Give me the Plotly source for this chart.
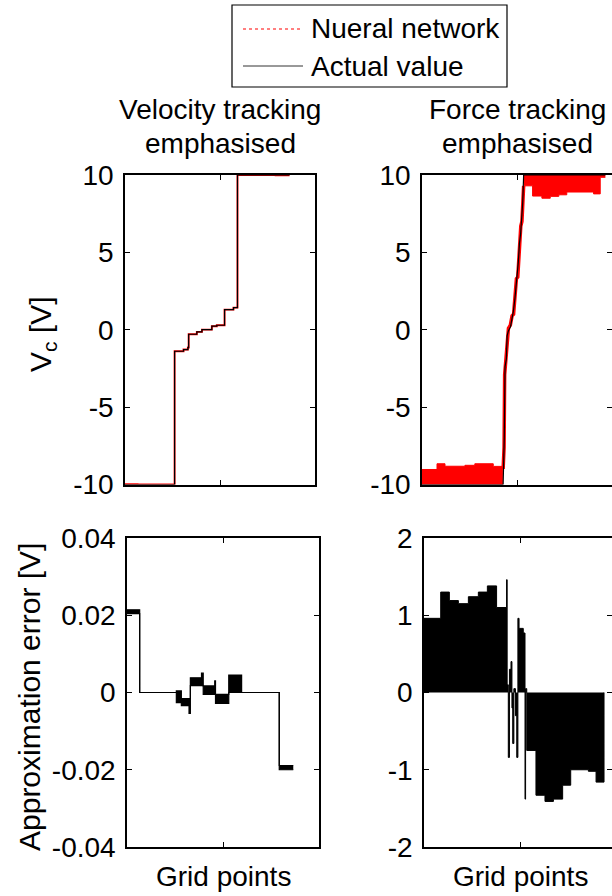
import plotly.graph_objects as go

# ---------------- data ----------------
# Top-left: velocity tracking emphasised (control voltage)
tl_act_x = [0, 26.1, 30.8, 33.1, 33.5, 37.8, 40.5, 45.7, 48.3, 52.4, 57.1, 59.2, 86.6]
tl_act_y = [-10, -1.39, -1.28, -1.15, -0.29, -0.14, 0.01, 0.23, 0.29, 1.30, 1.43, 10, 10]
tl_nn_x = [0, 6.6, 26.1, 30.8, 33.1, 33.5, 37.8, 40.5, 45.7, 48.3, 52.4, 57.1, 59.2, 79.3, 86.6]
tl_nn_y = [-9.979, -10, -1.39, -1.28, -1.15, -0.29, -0.14, 0.01, 0.23, 0.29, 1.30, 1.43, 10, 9.98, 9.98]

# Top-right: force tracking emphasised
tr_act_x = [0, 42.7, 43.0, 43.3, 43.7, 44.4, 44.8, 45.4, 46.6, 47.3, 48.1, 48.9, 49.8,
            50.3, 50.7, 51.3, 51.9, 52.5, 53.0, 53.5, 96.5]
tr_act_y = [-10, -10, -8.5, -7.0, -2.4, -1.9, -0.4, -0.1, 0.2, 0.6, 1.2, 2.0, 3.0,
            3.6, 4.4, 5.6, 6.2, 7.3, 8.2, 10, 10]
tr_nn_rise_x = [42.7, 42.9, 43.2, 43.5, 43.9, 44.5, 45.0, 45.5, 46.5, 47.4, 48.2, 49.0,
                49.7, 50.4, 50.9, 51.4, 52.0, 52.6, 53.1, 53.5]
tr_nn_rise_y = [-9.0, -8.2, -7.6, -2.9, -2.2, -1.6, -0.5, 0.1, 0.3, 0.9, 1.0, 2.3,
                3.3, 3.4, 4.8, 5.4, 6.7, 7.0, 8.6, 9.3]
tr_nn_lo_x = [0, 7.9, 12.1, 22.6, 27.8, 37.5, 42.6]
tr_nn_lo_env = [-9.03, -8.66, -8.82, -8.76, -8.66, -8.83, -8.83]
tr_nn_hi_x = [53.5, 58.2, 63.1, 67.5, 72.0, 76.2, 90.3, 93.8, 96.5]
tr_nn_hi_env = [9.30, 8.64, 8.50, 8.62, 8.72, 8.90, 8.78, 9.85, 9.85]

# Bottom-left: approximation error (band between hi and lo)
bl_x = [0, 6.6, 25.7, 28.3, 32.3, 33.0, 38.8, 39.7, 45.7, 46.1, 52.7, 53.0, 59.7, 79.3, 86.6]
bl_hi = [0.0214, 0, 0.0004, -0.0016, -0.0016, 0.0038, 0.0050, 0.0017, 0.0030, -0.0005,
         -0.0005, 0.0045, 0, -0.0189, -0.0189]
bl_lo = [0.0204, 0, -0.0026, -0.0034, -0.0054, 0.0018, 0.0018, -0.0005, -0.0005, -0.0028,
         -0.0028, 0.0000, 0, -0.0200, -0.0200]

# Bottom-right: approximation error envelope
br_x = [0, 8.7, 13.2, 17.9, 23.1, 28.3, 33.0, 37.8, 43.0, 43.3, 43.9, 44.5, 45.3, 45.8,
        46.2, 46.8, 47.6, 48.3, 48.9, 49.5, 51.7, 52.6, 52.9, 53.5, 58.3, 63.0, 67.4,
        72.2, 76.4, 85.6, 89.6, 93.75]
br_err = [0.96, 1.30, 1.19, 1.15, 1.24, 1.30, 1.38, 1.10, 1.46, 0.10, -0.84, 0.30, 0.40,
          -0.20, -0.66, 0.05, -0.30, -0.84, 0.96, 0.83, 0.77, -1.38, 0.05, -0.75, -1.33,
          -1.41, -1.38, -1.20, -1.00, -1.02, -1.16, 0]

top_ticks = [-10, -5, 0, 5, 10]
top_labels = ["-10", "-5", "0", "5", "10"]
bl_ticks = [-0.04, -0.02, 0, 0.02, 0.04]
bl_labels = ["-0.04", "-0.02", "0", "0.02", "0.04"]
br_ticks = [-2, -1, 0, 1, 2]
br_labels = ["-2", "-1", "0", "1", "2"]

titles = [["Velocity tracking", "emphasised"], ["Force tracking", "emphasised"]]

W, H = 612, 896
FONT = "Liberation Sans, Arial, sans-serif"
RED = "#ff0000"

fig = go.Figure()

def px_x(p):
    return p / W

def px_y(p):
    return 1 - p / H

# ---- top-left ----
fig.add_trace(go.Scatter(x=tl_nn_x, y=tl_nn_y, mode="lines", line=dict(color=RED, width=1.9, shape="hv"),
                         xaxis="x", yaxis="y", name="Nueral network", showlegend=False))
fig.add_trace(go.Scatter(x=tl_act_x, y=tl_act_y, mode="lines", line=dict(color="black", width=1.2, shape="hv"),
                         xaxis="x", yaxis="y", name="Actual value", showlegend=False))

# ---- top-right ----
fig.add_trace(go.Scatter(x=tr_nn_lo_x, y=[-10] * len(tr_nn_lo_x), mode="lines",
                         line=dict(color=RED, width=0.5, shape="hv"), xaxis="x2", yaxis="y2", showlegend=False))
fig.add_trace(go.Scatter(x=tr_nn_lo_x, y=tr_nn_lo_env, mode="lines", fill="tonexty", fillcolor=RED,
                         line=dict(color=RED, width=1, shape="hv"), xaxis="x2", yaxis="y2", showlegend=False))
fig.add_trace(go.Scatter(x=tr_nn_hi_x, y=[10] * len(tr_nn_hi_x), mode="lines",
                         line=dict(color=RED, width=0.5, shape="hv"), xaxis="x2", yaxis="y2", showlegend=False))
fig.add_trace(go.Scatter(x=tr_nn_hi_x, y=tr_nn_hi_env, mode="lines", fill="tonexty", fillcolor=RED,
                         line=dict(color=RED, width=1, shape="hv"), xaxis="x2", yaxis="y2", showlegend=False))
fig.add_trace(go.Scatter(x=tr_nn_rise_x, y=tr_nn_rise_y, mode="lines", line=dict(color=RED, width=3.5),
                         xaxis="x2", yaxis="y2", showlegend=False))
fig.add_trace(go.Scatter(x=tr_act_x, y=tr_act_y, mode="lines", line=dict(color="black", width=1.2),
                         xaxis="x2", yaxis="y2", showlegend=False))

# ---- bottom-left ----
fig.add_trace(go.Scatter(x=bl_x, y=bl_lo, mode="lines", line=dict(color="black", width=1.2, shape="hv"),
                         xaxis="x3", yaxis="y3", showlegend=False))
fig.add_trace(go.Scatter(x=bl_x, y=bl_hi, mode="lines", fill="tonexty", fillcolor="black",
                         line=dict(color="black", width=1.2, shape="hv"), xaxis="x3", yaxis="y3", showlegend=False))

# ---- bottom-right ----
fig.add_trace(go.Scatter(x=br_x, y=br_err, mode="lines", fill="tozeroy", fillcolor="black",
                         line=dict(color="black", width=1, shape="hv"), xaxis="x4", yaxis="y4", showlegend=False))

# ---------------- axes ----------------
def xax(dom, rng):
    return dict(domain=dom, range=rng, tickvals=[50], ticks="inside", ticklen=5, showticklabels=False,
                tickwidth=1, tickcolor="black", showline=True, linecolor="black", linewidth=1.5,
                mirror="ticks", showgrid=False, zeroline=False, fixedrange=True, automargin=False)

def yax(dom, rng, tv, tt, anchor):
    return dict(domain=dom, range=rng, tickvals=tv, ticktext=tt, ticks="inside", ticklen=5,
                tickwidth=1, tickcolor="black", showline=True, linecolor="black", linewidth=1.5,
                mirror="ticks", showgrid=False, zeroline=False, anchor=anchor, ticklabelstandoff=4,
                tickfont=dict(family=FONT, size=28, color="black"), fixedrange=True, automargin=False)

top_dom_y = [px_y(484.5), px_y(175)]
bot_dom_y = [px_y(847), px_y(538)]

fig.update_layout(
    template="none",
    width=W, height=H,
    margin=dict(l=0, r=0, t=0, b=0, pad=0, autoexpand=False),
    paper_bgcolor="white", plot_bgcolor="white",
    showlegend=False,
    font=dict(family=FONT, size=28, color="black"),
    xaxis=dict(xax([px_x(125), px_x(315)], [0, 100]), anchor="y"),
    yaxis=yax(top_dom_y, [-10, 10], top_ticks, top_labels, "x"),
    xaxis2=dict(xax([px_x(422), 1.0], [0, 100]), anchor="y2"),
    yaxis2=yax(top_dom_y, [-10, 10], top_ticks, top_labels, "x2"),
    xaxis3=dict(xax([px_x(127), px_x(319)], [0, 100]), anchor="y3"),
    yaxis3=yax(bot_dom_y, [-0.04, 0.04], bl_ticks, bl_labels, "x3"),
    xaxis4=dict(xax([px_x(424), 1.0], [0, 97.9]), anchor="y4"),
    yaxis4=yax(bot_dom_y, [-2, 2], br_ticks, br_labels, "x4"),
)

ann = []
# titles (two lines each)
for cx, lines in zip([220, 517], titles):
    for i, t in enumerate(lines):
        ann.append(dict(x=px_x(cx), y=px_y(110 + 33 * i), xref="paper", yref="paper", text=t,
                        showarrow=False, xanchor="center", yanchor="middle",
                        font=dict(family=FONT, size=28, color="black")))
# x labels
for cx in [223, 520]:
    ann.append(dict(x=px_x(cx), y=px_y(876), xref="paper", yref="paper", text="Grid points",
                    showarrow=False, xanchor="center", yanchor="middle",
                    font=dict(family=FONT, size=28, color="black")))
# y labels
ann.append(dict(x=px_x(42), y=px_y(334), xref="paper", yref="paper", text="V<sub>c</sub> [V]",
                textangle=-90, showarrow=False, xanchor="center", yanchor="middle",
                font=dict(family=FONT, size=30, color="black")))
ann.append(dict(x=px_x(29), y=px_y(697), xref="paper", yref="paper", text="Approximation error [V]",
                textangle=-90, showarrow=False, xanchor="center", yanchor="middle",
                font=dict(family=FONT, size=30, color="black")))
# legend texts
legend_items = ["Nueral network", "Actual value"]
for i, t in enumerate(legend_items):
    ann.append(dict(x=px_x(309), y=px_y(29 + 37 * i), xref="paper", yref="paper", text=t,
                    showarrow=False, xanchor="left", yanchor="middle",
                    font=dict(family=FONT, size=28, color="black")))
fig.update_layout(annotations=ann)

# legend box and samples
shapes = [
    dict(type="rect", xref="paper", yref="paper", x0=px_x(232), x1=px_x(507), y0=px_y(87), y1=px_y(5),
         line=dict(color="black", width=1.2), fillcolor="white", layer="below"),
    dict(type="line", xref="paper", yref="paper", x0=px_x(243), x1=px_x(303), y0=px_y(29), y1=px_y(29),
         line=dict(color=RED, width=1.2, dash="dot")),
    dict(type="line", xref="paper", yref="paper", x0=px_x(243), x1=px_x(303), y0=px_y(66), y1=px_y(66),
         line=dict(color="#333333", width=1)),
]
fig.update_layout(shapes=shapes)

fig.write_html("out.html")
